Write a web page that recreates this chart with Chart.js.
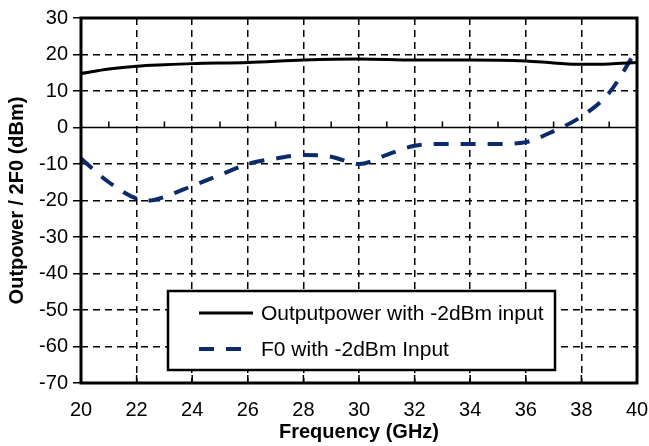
<!DOCTYPE html>
<html lang="en">
<head>
    <meta charset="UTF-8">
    <title>Outpower / 2F0</title>
    <script src="https://cdn.jsdelivr.net/npm/chart.js@4"></script>
    <style>
      html, body { margin: 0; padding: 0; background: #fff; }
      #wrap { width: 649px; height: 446px; }
    </style>
</head>
<body>
    <div id="wrap"><canvas id="myChart" width="649" height="446"></canvas></div>

    <script>
      // frequency (GHz) and values (dBm)
      const outFreq = [20, 21, 22, 23, 24, 26, 28, 30, 32, 34, 36, 37, 38, 39, 40];
      const outPower = [14.8, 16, 16.8, 17.2, 17.5, 17.8, 18.5, 18.8, 18.5, 18.5, 18.2, 17.7, 17.3, 17.4, 17.8];

      const f0Freq = [20, 21, 22, 22.5, 23, 24, 25, 26, 27, 28, 29, 30, 31, 32, 33, 34, 35, 36, 37, 38, 39, 40];
      const f0Power = [-8.5, -15, -19.5, -20, -19, -16, -13, -10, -8.5, -7.5, -8, -10, -7.5, -5, -4.5, -4.5, -4.5, -4, -1, 3, 9.5, 21.5];

      const labels = ['Outputpower with -2dBm input', 'F0 with -2dBm Input'];
      const FONT = "'Liberation Sans', Arial, sans-serif";

      const toPoints = (xs, ys) => xs.map((x, i) => ({ x: x, y: ys[i] }));

      const hideEdges = (ctx) => {
        const s = ctx.scale;
        const v = ctx.tick.value;
        return (v === s.min || v === s.max || v === 0) ? 'rgba(0,0,0,0)' : '#000';
      };

      // frame, zero line, minor ticks and boxed legend
      const framePlugin = {
        id: 'frame',
        beforeDatasetsDraw(chart) {
          const { ctx, chartArea: a, scales } = chart;
          const y0 = scales.y.getPixelForValue(0);
          ctx.save();
          ctx.strokeStyle = '#000';
          ctx.lineWidth = 1.5;
          ctx.beginPath();
          ctx.moveTo(a.left, y0);
          ctx.lineTo(a.right, y0);
          // odd ticks on the zero line
          for (let f = 21; f < 40; f += 2) {
            const x = scales.x.getPixelForValue(f);
            ctx.moveTo(x, y0);
            ctx.lineTo(x, y0 - 6);
          }
          // even ticks inside the bottom axis
          for (let f = 22; f < 40; f += 2) {
            const x = scales.x.getPixelForValue(f);
            ctx.moveTo(x, a.bottom);
            ctx.lineTo(x, a.bottom - 8);
          }
          ctx.stroke();
          ctx.restore();
        },
        afterDatasetsDraw(chart) {
          const { ctx, chartArea: a } = chart;
          ctx.save();
          ctx.strokeStyle = '#000';
          ctx.lineWidth = 3;
          ctx.strokeRect(a.left, a.top, a.right - a.left, a.bottom - a.top);

          // legend box
          const bx = a.left + 87, by = a.top + 273, bw = 387, bh = 79;
          ctx.fillStyle = '#fff';
          ctx.fillRect(bx, by, bw, bh);
          ctx.lineWidth = 2.5;
          ctx.strokeRect(bx, by, bw, bh);

          const ds = chart.data.datasets;
          const rows = [by + 22, by + 58];
          ds.forEach((d, i) => {
            ctx.save();
            ctx.strokeStyle = d.borderColor;
            ctx.lineWidth = d.borderWidth;
            ctx.setLineDash(d.borderDash || []);
            ctx.beginPath();
            ctx.moveTo(bx + 31, rows[i]);
            ctx.lineTo(bx + 85, rows[i]);
            ctx.stroke();
            ctx.restore();
            ctx.fillStyle = '#000';
            ctx.font = '21px ' + FONT;
            ctx.textBaseline = 'middle';
            ctx.fillText(d.label, bx + 93, rows[i] + 1);
          });
          ctx.restore();
        }
      };

      const ctx = document.getElementById('myChart').getContext('2d');
      const myChart = new Chart(ctx, {
        type: 'line',
        data: {
          datasets: [
            {
              label: labels[0],
              data: toPoints(outFreq, outPower),
              borderColor: '#000',
              borderWidth: 3,
              pointRadius: 0,
              fill: false,
              cubicInterpolationMode: 'monotone'
            },
            {
              label: labels[1],
              data: toPoints(f0Freq, f0Power),
              borderColor: '#0b2b6b',
              borderWidth: 4,
              borderDash: [15, 12],
              pointRadius: 0,
              fill: false,
              cubicInterpolationMode: 'monotone'
            }
          ]
        },
        options: {
          responsive: false,
          animation: false,
          layout: { padding: { top: 18, right: 12, left: 0, bottom: 0 } },
          plugins: { legend: { display: false }, tooltip: { enabled: false } },
          scales: {
            x: {
              type: 'linear',
              min: 20,
              max: 40,
              afterFit: (s) => { s.height = 63; s.paddingLeft = 0; s.paddingRight = 0; },
              ticks: { stepSize: 2, color: '#000', padding: 15, font: { family: FONT, size: 20 } },
              grid: { color: hideEdges, lineWidth: 1.5, drawTicks: false },
              border: { display: false, dash: [7, 5] },
              title: {
                display: true,
                text: 'Frequency (GHz)',
                color: '#000',
                font: { family: FONT, size: 20, weight: 'bold' },
                padding: { top: 0, bottom: 2 }
              }
            },
            y: {
              min: -70,
              max: 30,
              afterFit: (s) => { s.width = 81; s.paddingTop = 0; s.paddingBottom = 0; },
              ticks: { stepSize: 10, color: '#000', padding: 5, font: { family: FONT, size: 20 } },
              grid: { color: hideEdges, lineWidth: 1.5, tickLength: 8, tickColor: '#000', tickWidth: 1.5 },
              border: { display: false, dash: [7, 5] },
              title: {
                display: true,
                text: 'Outpower / 2F0 (dBm)',
                color: '#000',
                font: { family: FONT, size: 20, weight: 'bold' },
                padding: { top: 5, bottom: 0 }
              }
            }
          }
        },
        plugins: [framePlugin]
      });
    </script>
</body>
</html>
